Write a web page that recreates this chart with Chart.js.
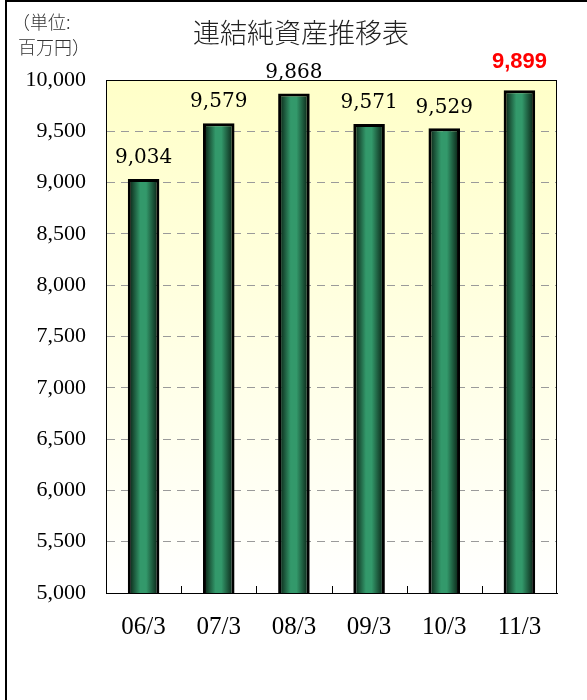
<!DOCTYPE html>
<html>
<head>
<meta charset="utf-8">
<script src="https://cdn.jsdelivr.net/npm/chart.js@4"></script>
<style>
    body { margin: 0; background: #fff; }
    #wrap { position: relative; width: 587px; height: 700px; }
    #frame { position: absolute; left: 5px; top: 0; width: 600px; height: 720px; border-left: 2px solid #000; border-top: 2px solid #000; pointer-events: none; }
</style>
</head>
<body>
<div id="wrap">
    <canvas id="navChart" width="587" height="700"></canvas>
    <div id="frame"></div>
</div>
<script>
const periods = ['06/3', '07/3', '08/3', '09/3', '10/3', '11/3'];
const netAssets = [9034, 9579, 9868, 9571, 9529, 9899];
const chartTitle = '連結純資産推移表';
const unitLines = ['（単位:', '百万円）'];

const serif = '"Liberation Serif", "DejaVu Serif", serif';

// plot area tint + frame + inner tick marks
const plotDecor = {
    id: 'plotDecor',
    beforeDatasetsDraw(chart) {
        const { ctx, chartArea: a } = chart;
        ctx.save();
        const g = ctx.createLinearGradient(0, a.top, 0, a.bottom);
        g.addColorStop(0, '#ffffc8');
        g.addColorStop(1, '#ffffff');
        ctx.globalCompositeOperation = 'destination-over';
        ctx.fillStyle = g;
        ctx.fillRect(a.left, a.top, a.right - a.left, a.bottom - a.top);
        ctx.restore();
    },
    afterDraw(chart) {
        const { ctx, chartArea: a } = chart;
        const x = chart.scales.x;
        ctx.save();
        ctx.strokeStyle = '#000';
        ctx.lineWidth = 1;
        ctx.strokeRect(a.left + 0.5, a.top + 0.5, a.right - a.left - 1, a.bottom - a.top);
        ctx.beginPath();
        for (let i = 1; i < periods.length; i++) {
            const px = Math.round((x.getPixelForValue(i - 1) + x.getPixelForValue(i)) / 2) + 0.5;
            ctx.moveTo(px, a.bottom);
            ctx.lineTo(px, a.bottom - 7);
        }
        ctx.stroke();

        // title and unit
        ctx.fillStyle = '#222';
        ctx.textAlign = 'center';
        ctx.textBaseline = 'middle';
        ctx.font = '300 27px "Noto Sans CJK JP", sans-serif';
        ctx.fillText(chartTitle, 301, 33);
        ctx.fillStyle = '#333';
        ctx.textAlign = 'left';
        ctx.font = '300 18px "Noto Sans CJK JP", sans-serif';
        ctx.fillText(unitLines[0], 12, 22);
        ctx.fillText(unitLines[1], 18, 47);
        ctx.restore();
    }
};

const valueLabels = {
    id: 'valueLabels',
    afterDatasetsDraw(chart) {
        const { ctx } = chart;
        const meta = chart.getDatasetMeta(0);
        ctx.save();
        ctx.textAlign = 'center';
        ctx.textBaseline = 'middle';
        meta.data.forEach((bar, i) => {
            const txt = netAssets[i].toLocaleString('en-US');
            if (i === netAssets.length - 1) {
                ctx.fillStyle = '#ff0000';
                ctx.font = 'bold 22px "Liberation Sans", Arial, sans-serif';
                ctx.fillText(txt, bar.x, bar.y - 28);
            } else {
                ctx.fillStyle = '#000';
                ctx.font = '20px "DejaVu Serif", serif';
                ctx.fillText(txt, bar.x, bar.y - 21);
            }
        });
        ctx.restore();
    }
};

function barFill(c) {
    const chart = c.chart;
    if (!chart.chartArea || !chart.scales.x) return '#339966';
    const cx = chart.scales.x.getPixelForValue(c.dataIndex);
    const w = 16;
    const g = chart.ctx.createLinearGradient(cx - w, 0, cx + w, 0);
    g.addColorStop(0, '#041209');
    g.addColorStop(0.4, '#33996b');
    g.addColorStop(0.58, '#33996b');
    g.addColorStop(1, '#041209');
    return g;
}

new Chart(document.getElementById('navChart'), {
    type: 'bar',
    data: {
        labels: periods,
        datasets: [{
            label: '純資産',
            data: netAssets,
            backgroundColor: barFill,
            borderColor: '#000',
            borderWidth: 3,
            borderSkipped: false,
            barPercentage: 0.42,
            categoryPercentage: 1
        }]
    },
    options: {
        responsive: false,
        animation: false,
        layout: { padding: { top: 80, right: 30, left: 0, bottom: 0 } },
        plugins: {
            legend: { display: false },
            title: { display: false },
            tooltip: { enabled: false }
        },
        scales: {
            x: {
                grid: { drawOnChartArea: false, drawTicks: false },
                border: { color: '#000', width: 1 },
                ticks: { color: '#000', padding: 19, font: { family: serif, size: 25 } },
                afterFit: function (s) { s.height = 107; }
            },
            y: {
                min: 5000,
                max: 10000,
                grid: {
                    drawTicks: false,
                    color: '#9a9a9a',
                    lineWidth: 1
                },
                border: { color: '#000', width: 1, dash: [8, 6] },
                ticks: {
                    stepSize: 500,
                    color: '#000',
                    padding: 20,
                    font: { family: serif, size: 22 },
                    callback: function (v) { return v.toLocaleString('en-US'); }
                },
                afterFit: function (s) { s.width = 106; }
            }
        }
    },
    plugins: [plotDecor, valueLabels]
});
</script>
</body>
</html>
